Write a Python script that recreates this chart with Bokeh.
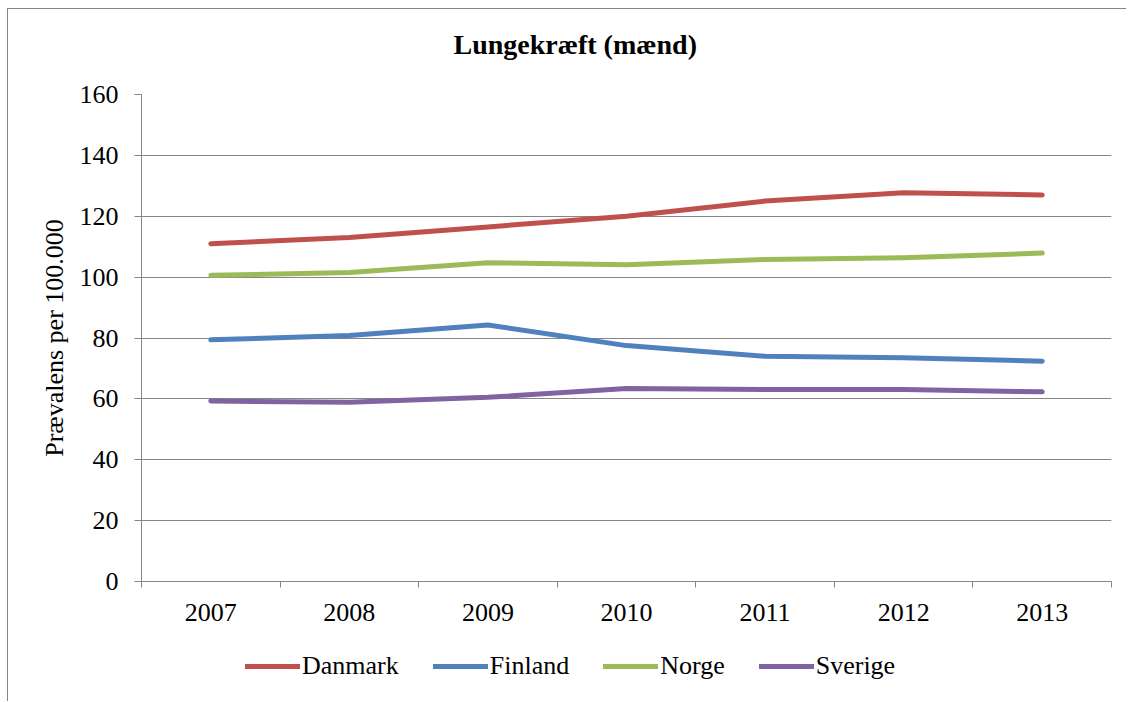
from bokeh.plotting import figure
from bokeh.layouts import column
from bokeh.models import FixedTicker, Legend, LegendItem, Range1d
from bokeh.embed import file_html
from bokeh.resources import INLINE

years = ["2007", "2008", "2009", "2010", "2011", "2012", "2013"]
danmark = [111.0, 113.0, 116.5, 120.0, 125.0, 127.7, 127.0]
finland = [79.4, 80.8, 84.3, 77.5, 74.0, 73.5, 72.4]
norge = [100.6, 101.5, 104.7, 104.1, 105.8, 106.4, 107.9]
sverige = [59.3, 58.9, 60.5, 63.4, 63.1, 63.1, 62.3]
y_ticks = [0, 20, 40, 60, 80, 100, 120, 140, 160]

series = [
    ("Danmark", danmark, "#C0504D"),
    ("Finland", finland, "#4F81BD"),
    ("Norge", norge, "#9BBB59"),
    ("Sverige", sverige, "#8064A2"),
]

FONT = "Liberation Serif"
GRAY = "#868686"

x = list(range(len(years)))


def blank(fig):
    fig.outline_line_color = None
    fig.xgrid.visible = False
    fig.ygrid.visible = False
    fig.border_fill_color = "white"
    fig.background_fill_color = "white"


# title strip
tf = figure(width=1118, height=72, output_backend="svg", toolbar_location=None,
            x_range=Range1d(0, 1), y_range=Range1d(0, 1),
            x_axis_location=None, y_axis_location=None,
            min_border_left=133, min_border_right=15, min_border_top=0, min_border_bottom=0)
blank(tf)
tf.title.text = "Lungekræft (mænd)"
tf.title.text_font = FONT
tf.title.text_font_size = "28px"
tf.title.text_font_style = "bold"
tf.title.text_color = "black"
tf.title.align = "left"
tf.title.vertical_align = "top"
tf.title.offset = 312
tf.title.standoff = 38

# main chart
p = figure(width=1118, height=560, output_backend="svg", toolbar_location=None,
           title_location=None,
           x_range=Range1d(-0.5, len(years) - 0.5), y_range=Range1d(0, 160),
           min_border_left=133, min_border_right=15, min_border_top=13,
           min_border_bottom=60)
p.outline_line_color = None
p.background_fill_color = "white"
p.border_fill_color = "white"

p.xgrid.visible = False
p.ygrid.grid_line_color = GRAY
p.ygrid.grid_line_width = 1

# y axis
p.yaxis.ticker = FixedTicker(ticks=y_ticks)
p.yaxis.axis_line_color = GRAY
p.yaxis.major_tick_line_color = GRAY
p.yaxis.major_tick_out = 7
p.yaxis.major_tick_in = 0
p.yaxis.minor_tick_out = 0
p.yaxis.minor_tick_in = 0
p.yaxis.major_label_text_font = FONT
p.yaxis.major_label_text_font_size = "26px"
p.yaxis.major_label_text_color = "black"
p.yaxis.major_label_standoff = 16
p.yaxis.axis_label = "Prævalens per 100.000"
p.yaxis.axis_label_text_font = FONT
p.yaxis.axis_label_text_font_size = "26px"
p.yaxis.axis_label_text_font_style = "normal"
p.yaxis.axis_label_text_color = "black"
p.yaxis.axis_label_standoff = 8

# x axis: labels at category centres, ticks at category boundaries
p.xaxis.ticker = FixedTicker(ticks=x, minor_ticks=[i - 0.5 for i in range(len(years) + 1)])
p.xaxis.major_label_overrides = {i: y for i, y in zip(x, years)}
p.xaxis.axis_line_color = GRAY
p.xaxis.major_tick_out = 0
p.xaxis.major_tick_in = 0
p.xaxis.minor_tick_out = 6
p.xaxis.minor_tick_in = 0
p.xaxis.minor_tick_line_color = GRAY
p.xaxis.major_label_text_font = FONT
p.xaxis.major_label_text_font_size = "26px"
p.xaxis.major_label_text_color = "black"
p.xaxis.major_label_standoff = 16

for name, vals, color in series:
    p.line(x, vals, line_color=color, line_width=5, line_cap="round", line_join="round")

# legend strip below the chart (series drawn out of view, used for legend glyphs)
lg = figure(width=1118, height=60, output_backend="svg", toolbar_location=None,
            title_location=None,
            x_range=Range1d(0, 1), y_range=Range1d(0, 1),
            x_axis_location=None, y_axis_location=None,
            min_border_left=133, min_border_right=15, min_border_top=0, min_border_bottom=0)
blank(lg)
items = []
for name, vals, color in series:
    r = lg.line(x, vals, line_color=color, line_width=5, line_cap="round")
    items.append(LegendItem(label=name, renderers=[r]))
legend = Legend(items=items, orientation="horizontal", location=(104, 20),
                label_text_font=FONT, label_text_font_size="26px",
                label_text_color="black",
                glyph_width=55, glyph_height=26, label_standoff=2, spacing=34,
                border_line_color=None, background_fill_alpha=0, padding=0, margin=0)
lg.add_layout(legend, "center")

layout = column(tf, p, lg, spacing=0)
layout.styles = {"border-left": "1px solid " + GRAY, "border-top": "1px solid " + GRAY,
                 "margin-left": "7px", "margin-top": "8px"}

open("out.html", "w").write(file_html(layout, INLINE))
